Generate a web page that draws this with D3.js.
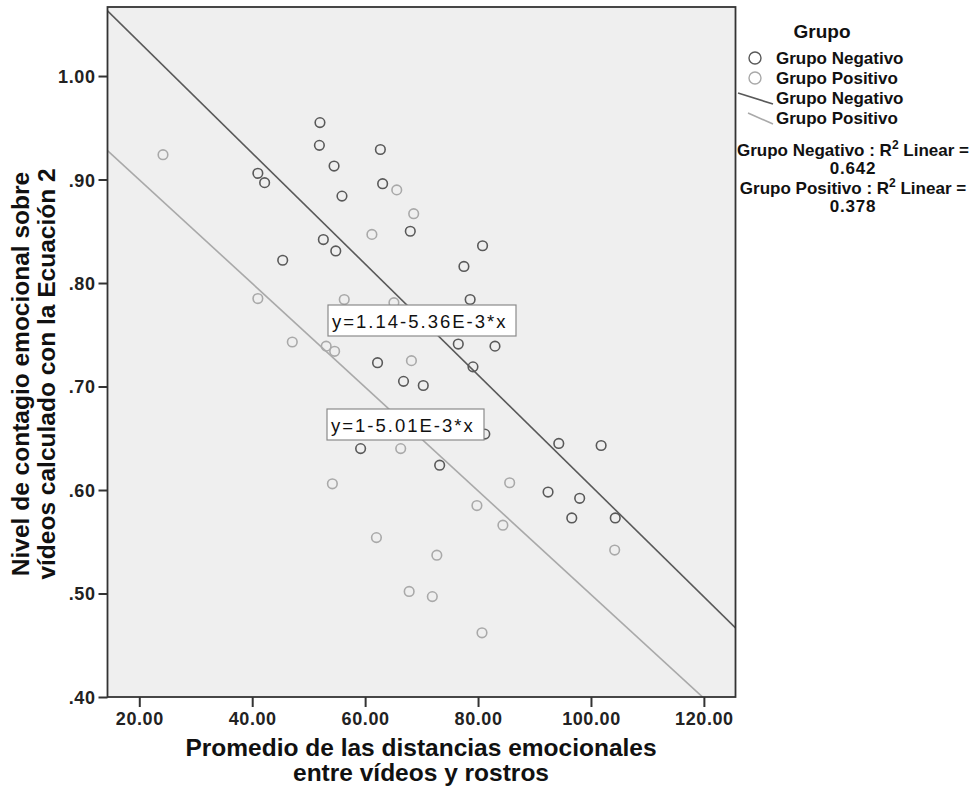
<!DOCTYPE html>
<html>
<head>
<meta charset="utf-8">
<script src="https://cdn.jsdelivr.net/npm/d3@7"></script>
<style>
  html, body { margin: 0; padding: 0; background: #ffffff; }
  svg { display: block; font-family: "Liberation Sans", Arial, Helvetica, sans-serif; }
</style>
</head>
<body>
<svg id="chart" width="975" height="786"></svg>
<script>
// Scatter of emotional contagion vs. mean emotional distance, by group
const negX = [52.0, 51.9, 54.5, 55.9, 41.0, 42.2, 52.6, 54.8, 45.4, 62.7, 63.1, 68.0, 80.8, 77.5, 78.6,
              76.5, 83.0, 79.1, 62.2, 66.8, 70.3, 59.2, 73.2, 94.3, 101.8, 92.4, 98.0, 96.6, 104.3, 81.2];
const negY = [0.955, 0.933, 0.913, 0.884, 0.906, 0.897, 0.842, 0.831, 0.822, 0.929, 0.896, 0.850, 0.836, 0.816, 0.784,
              0.741, 0.739, 0.719, 0.723, 0.705, 0.701, 0.640, 0.624, 0.645, 0.643, 0.598, 0.592, 0.573, 0.573, 0.654];
const posX = [24.2, 41.0, 47.1, 53.1, 54.6, 56.3, 65.1, 61.2, 65.6, 68.6, 68.2, 66.3, 54.2, 85.6, 79.8,
              84.4, 62.0, 72.7, 67.8, 71.9, 80.7, 104.2];
const posY = [0.924, 0.785, 0.743, 0.739, 0.734, 0.784, 0.781, 0.847, 0.890, 0.867, 0.725, 0.640, 0.606, 0.607, 0.585,
              0.566, 0.554, 0.537, 0.502, 0.497, 0.462, 0.542];

// Fitted lines: intercept and slope
const fitNeg = { a: 1.14, b: -5.36e-3, label: "y=1.14-5.36E-3*x" };
const fitPos = { a: 1.0, b: -5.01e-3, label: "y=1-5.01E-3*x" };

const xTicks = [20, 40, 60, 80, 100, 120];
const yTicks = [0.4, 0.5, 0.6, 0.7, 0.8, 0.9, 1.0];
const r2Values = ["0.642", "0.378"];

const colNeg = "#595959";
const colPos = "#a9a9a9";

const svg = d3.select("#chart");
const plot = { left: 107.5, right: 735.5, top: 7, bottom: 697 };

const x = d3.scaleLinear().domain([14.37, 125.6]).range([plot.left, plot.right]);
const y = d3.scaleLinear().domain([0.4, 1.0667]).range([plot.bottom, plot.top]);

// plot background
svg.append("rect")
  .attr("x", plot.left).attr("y", plot.top)
  .attr("width", plot.right - plot.left).attr("height", plot.bottom - plot.top)
  .attr("fill", "#efefef");

svg.append("clipPath").attr("id", "clip")
  .append("rect")
  .attr("x", plot.left).attr("y", plot.top)
  .attr("width", plot.right - plot.left).attr("height", plot.bottom - plot.top);

const g = svg.append("g").attr("clip-path", "url(#clip)");

// regression lines
const xd = x.domain();
[[fitPos, colPos], [fitNeg, colNeg]].forEach(([f, c]) => {
  g.append("line")
    .attr("x1", x(xd[0])).attr("y1", y(f.a + f.b * xd[0]))
    .attr("x2", x(xd[1])).attr("y2", y(f.a + f.b * xd[1]))
    .attr("stroke", c).attr("stroke-width", 1.6);
});

// points
function drawPoints(xs, ys, color) {
  g.selectAll(null).data(xs.map((v, i) => [v, ys[i]])).enter()
    .append("circle")
    .attr("cx", d => x(d[0])).attr("cy", d => y(d[1]))
    .attr("r", 4.8)
    .attr("fill", "none")
    .attr("stroke", color).attr("stroke-width", 1.6);
}
drawPoints(posX, posY, colPos);
drawPoints(negX, negY, colNeg);

// equation labels
function eqBox(f, bx, by, w, h) {
  const gg = svg.append("g");
  gg.append("rect").attr("x", bx).attr("y", by).attr("width", w).attr("height", h)
    .attr("fill", "#ffffff").attr("stroke", "#8a8a8a").attr("stroke-width", 1.2);
  gg.append("text").attr("x", bx + 4).attr("y", by + h / 2 + 7)
    .attr("font-size", 18.5).attr("letter-spacing", 2).attr("fill", "#111")
    .text(f.label);
}
eqBox(fitNeg, 328, 305, 188, 31);
eqBox(fitPos, 327, 409, 157, 31);

// frame
svg.append("rect")
  .attr("x", plot.left).attr("y", plot.top)
  .attr("width", plot.right - plot.left).attr("height", plot.bottom - plot.top)
  .attr("fill", "none").attr("stroke", "#333").attr("stroke-width", 1.8);

// axes
const yAxis = svg.append("g").attr("transform", `translate(${plot.left},0)`)
  .call(d3.axisLeft(y).tickValues(yTicks).tickSize(9).tickSizeOuter(0)
    .tickFormat(d => d3.format(".2f")(d).replace(/^0/, "")));
const xAxis = svg.append("g").attr("transform", `translate(0,${plot.bottom})`)
  .call(d3.axisBottom(x).tickValues(xTicks).tickSize(10).tickSizeOuter(0)
    .tickFormat(d3.format(".2f")));
[yAxis, xAxis].forEach(a => {
  a.select(".domain").remove();
  a.attr("font-size", 18).attr("font-family", "Liberation Sans, Arial, sans-serif");
  a.selectAll(".tick line").attr("stroke", "#333").attr("stroke-width", 2);
  a.selectAll(".tick text")
    .attr("font-weight", "bold").attr("fill", "#222")
    .attr("letter-spacing", 0.6);
});
yAxis.selectAll(".tick text").attr("x", -12).attr("dy", "0.36em");
xAxis.selectAll(".tick text").attr("y", 15);

// axis titles
const xt = svg.append("text").attr("text-anchor", "middle")
  .attr("font-size", 24.5).attr("font-weight", "bold").attr("fill", "#111");
xt.append("tspan").attr("x", 421).attr("y", 756).text("Promedio de las distancias emocionales");
xt.append("tspan").attr("x", 421).attr("y", 781).text("entre vídeos y rostros");

const yt = svg.append("text").attr("text-anchor", "middle")
  .attr("transform", "translate(0,374) rotate(-90)")
  .attr("font-size", 24.5).attr("font-weight", "bold").attr("fill", "#111");
yt.append("tspan").attr("x", 0).attr("y", 29).text("Nivel de contagio emocional sobre");
yt.append("tspan").attr("x", 0).attr("y", 55).text("vídeos calculado con la Ecuación 2");

// legend
const lg = svg.append("g").attr("font-weight", "bold").attr("fill", "#111");
lg.append("text").attr("x", 822).attr("y", 38).attr("text-anchor", "middle")
  .attr("font-size", 19).text("Grupo");
const items = [
  { type: "circle", color: colNeg, text: "Grupo Negativo", cy: 58 },
  { type: "circle", color: colPos, text: "Grupo Positivo", cy: 78 },
  { type: "line", color: colNeg, text: "Grupo Negativo", cy: 98 },
  { type: "line", color: colPos, text: "Grupo Positivo", cy: 118 }
];
items.forEach(it => {
  if (it.type === "circle") {
    lg.append("circle").attr("cx", 755).attr("cy", it.cy).attr("r", 6)
      .attr("fill", "none").attr("stroke", it.color).attr("stroke-width", 1.4);
  } else {
    lg.append("line").attr("x1", it.cy < 105 ? 738 : 748).attr("y1", it.cy - 5)
      .attr("x2", 773).attr("y2", it.cy + 6)
      .attr("stroke", it.color).attr("stroke-width", 1.6);
  }
  lg.append("text").attr("x", 776).attr("y", it.cy + 6)
    .attr("font-size", 17).text(it.text);
});

const r2Lines = [
  ["Grupo Negativo", r2Values[0], 156],
  ["Grupo Positivo", r2Values[1], 194]
];
r2Lines.forEach(([name, val, yy]) => {
  const t = lg.append("text").attr("x", 853).attr("y", yy).attr("text-anchor", "middle")
    .attr("font-size", 17);
  t.append("tspan").text(name + " : R");
  t.append("tspan").attr("font-size", 12).attr("dy", -7).text("2");
  t.append("tspan").attr("dy", 7).text("  Linear =");
  lg.append("text").attr("x", 853).attr("y", yy + 18).attr("text-anchor", "middle")
    .attr("font-size", 17).attr("letter-spacing", 0.8).text(val);
});
</script>
</body>
</html>
